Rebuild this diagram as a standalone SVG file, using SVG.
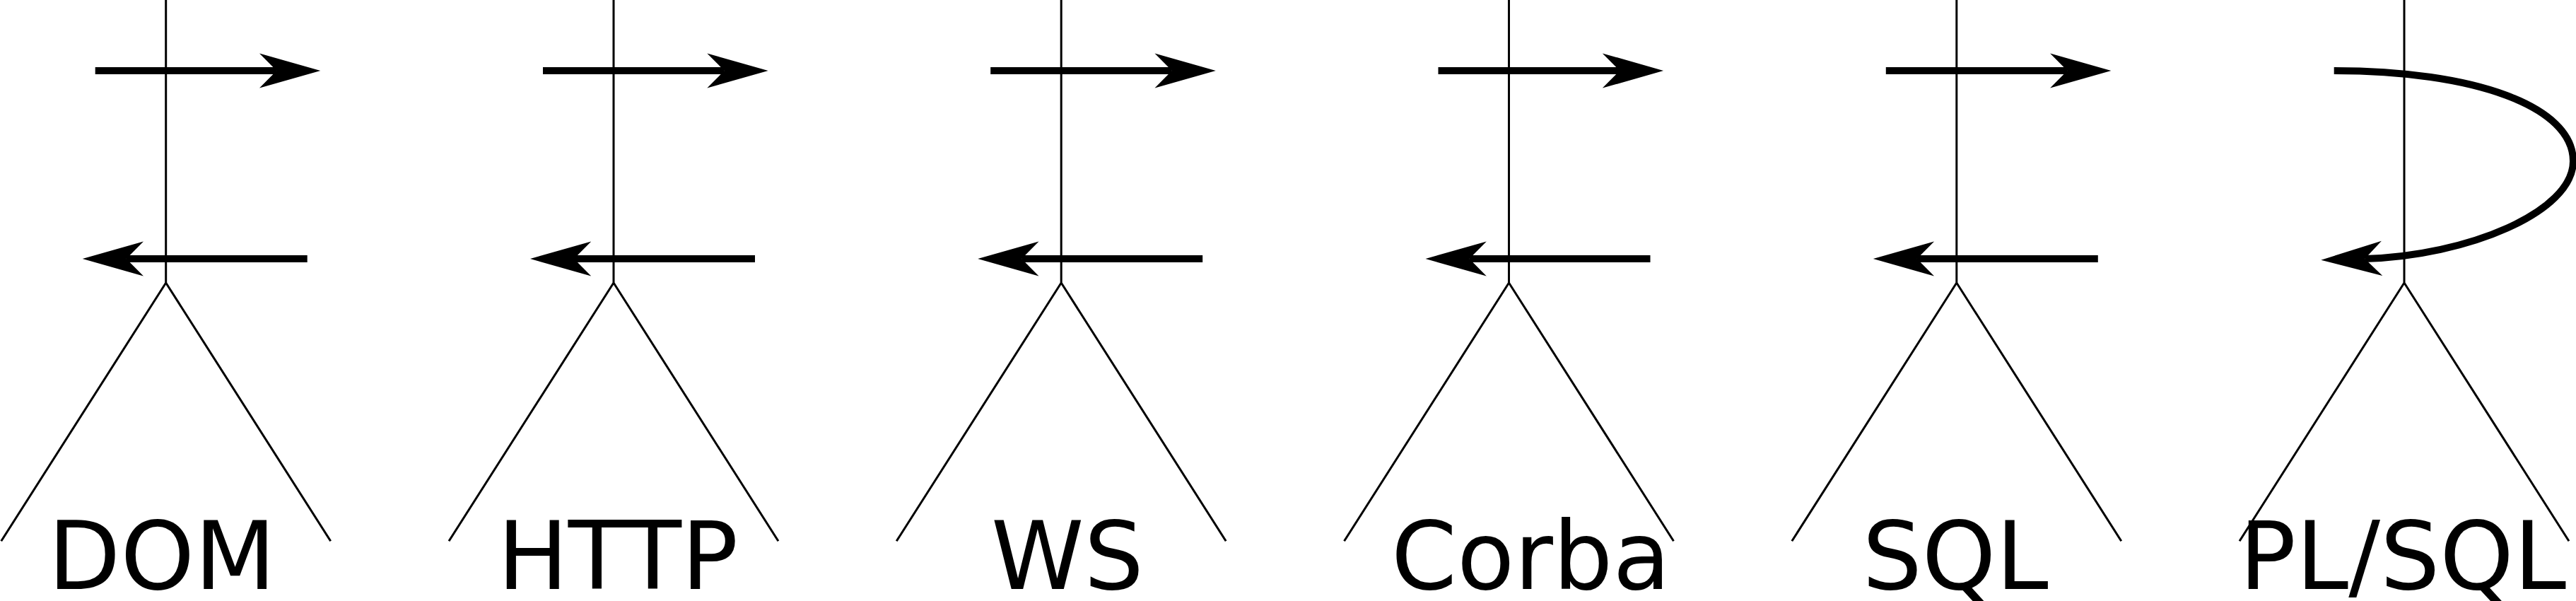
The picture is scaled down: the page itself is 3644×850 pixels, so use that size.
<svg xmlns="http://www.w3.org/2000/svg" width="3644" height="850" viewBox="0 0 3644 850">
  <style>
    .stick { fill: none; stroke: #000; stroke-width: 3; stroke-linejoin: miter; stroke-linecap: butt; }
    .flow { fill: none; stroke: #000; stroke-width: 10; stroke-linecap: butt; }
    .label { font-family: "DejaVu Sans", "Liberation Sans", sans-serif; font-size: 133px; text-anchor: middle; fill: #000; }
  </style>
  <defs>
    <marker id="ah" markerUnits="userSpaceOnUse" markerWidth="90" markerHeight="52" refX="24.3" refY="24.6" orient="auto" overflow="visible">
      <path d="M86.3,24.6 L0,0 L24.3,24.6 L0,49.2 Z" fill="#000"/>
    </marker>
  </defs>
  <rect width="3644" height="850" fill="#fff"/>

  <g id="node-dom">
    <path class="stick" d="M234.7,0 V400 M1.7,765.3 L234.7,400 L467.7,765.3"/>
    <text class="label" x="229" y="832.5">DOM</text>
  </g>
  <g id="node-http">
    <path class="stick" d="M868,0 V400 M635,765.3 L868,400 L1101,765.3"/>
    <text class="label" x="874" y="832.5">HTTP</text>
  </g>
  <g id="node-ws">
    <path class="stick" d="M1501.2,0 V400 M1268.2,765.3 L1501.2,400 L1734.2,765.3"/>
    <text class="label" x="1510" y="832.5">WS</text>
  </g>
  <g id="node-corba">
    <path class="stick" d="M2134.5,0 V400 M1901.5,765.3 L2134.5,400 L2367.5,765.3"/>
    <text class="label" x="2165.5" y="832.5">Corba</text>
  </g>
  <g id="node-sql">
    <path class="stick" d="M2767.8,0 V400 M2534.8,765.3 L2767.8,400 L3000.8,765.3"/>
    <text class="label" x="2766" y="832.5">SQL</text>
  </g>
  <g id="node-plsql">
    <path class="stick" d="M3401,0 V400 M3168,765.3 L3401,400 L3634,765.3"/>
    <text class="label" x="3399" y="832.5">PL/SQL</text>
  </g>

  <g id="connectors">
    <path class="flow" marker-end="url(#ah)" d="M134.7,100 H391.3"/>
    <path class="flow" marker-end="url(#ah)" d="M434.7,366 H178.7"/>
    <path class="flow" marker-end="url(#ah)" d="M768,100 H1024.6"/>
    <path class="flow" marker-end="url(#ah)" d="M1068,366 H812"/>
    <path class="flow" marker-end="url(#ah)" d="M1401.2,100 H1657.8"/>
    <path class="flow" marker-end="url(#ah)" d="M1701.2,366 H1445.2"/>
    <path class="flow" marker-end="url(#ah)" d="M2034.5,100 H2291.1"/>
    <path class="flow" marker-end="url(#ah)" d="M2334.5,366 H2078.5"/>
    <path class="flow" marker-end="url(#ah)" d="M2667.8,100 H2924.4"/>
    <path class="flow" marker-end="url(#ah)" d="M2967.8,366 H2711.8"/>
    <path class="flow" marker-end="url(#ah)" d="M3301.7,100 C3500,100 3640,150 3640,228 C3640,300 3490,362 3345.3,366"/>
  </g>
</svg>
